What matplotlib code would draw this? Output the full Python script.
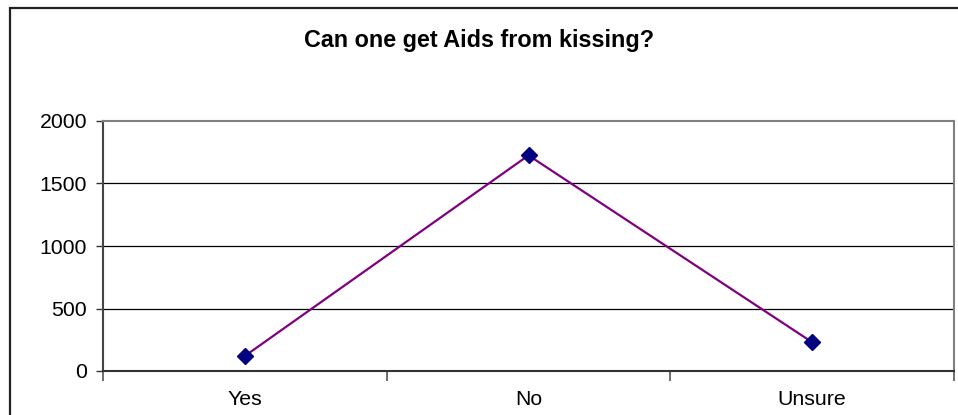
import matplotlib.pyplot as plt
from matplotlib.patches import Rectangle

categories = ['Yes', 'No', 'Unsure']
counts = [120, 1725, 230]
y_ticks = [0, 500, 1000, 1500, 2000]

plt.rcParams['font.family'] = ['Liberation Sans', 'DejaVu Sans']

fig = plt.figure(figsize=(9.58, 4.15), dpi=100)
ax = fig.add_axes([103 / 958, 1 - 371 / 415, 851 / 958, 250 / 415])

x = range(len(categories))
ax.plot(x, counts, color='#800080', linewidth=1.6, marker='D', markersize=8.5,
        markerfacecolor='#000080', markeredgecolor='#000080', zorder=3)

ax.set_xlim(-0.5, len(categories) - 0.5)
ax.set_ylim(0, 2000)
ax.set_yticks(y_ticks)
ax.tick_params(axis='y', length=5, width=1, pad=6.5, labelsize=15.3, color='#333333')

# category boundaries get the ticks, labels sit in the middle
ax.set_xticks([i - 0.5 for i in range(len(categories) + 1)])
ax.set_xticklabels([])
ax.set_xticks(list(x), minor=True)
ax.set_xticklabels(categories, minor=True, fontsize=15.3)
ax.tick_params(axis='x', which='major', length=7, width=1.2, color='#555555', direction='out')
ax.tick_params(axis='x', which='minor', length=0, pad=14)

for v in y_ticks[1:-1]:
    ax.axhline(v, color='black', linewidth=0.9, zorder=1)

ax.spines['top'].set_color('#808080')
ax.spines['right'].set_color('#808080')
ax.spines['top'].set_linewidth(1.5)
ax.spines['right'].set_linewidth(1.5)
ax.spines['left'].set_color('#444444')
ax.spines['left'].set_linewidth(1.5)
ax.spines['bottom'].set_color('#333333')
ax.spines['bottom'].set_linewidth(1.5)

fig.text(479 / 958, 1 - 40 / 415, 'Can one get Aids from kissing?', ha='center', va='center',
         fontsize=16.8, fontweight='bold')

# outer chart frame (runs off the right and bottom edges)
fig.patches.append(Rectangle((9.5 / 958, -0.1), 1.2, 1.1 - 8.5 / 415, transform=fig.transFigure,
                             fill=False, edgecolor='#222222', linewidth=1.6))

fig.savefig('out.png', dpi=100)
